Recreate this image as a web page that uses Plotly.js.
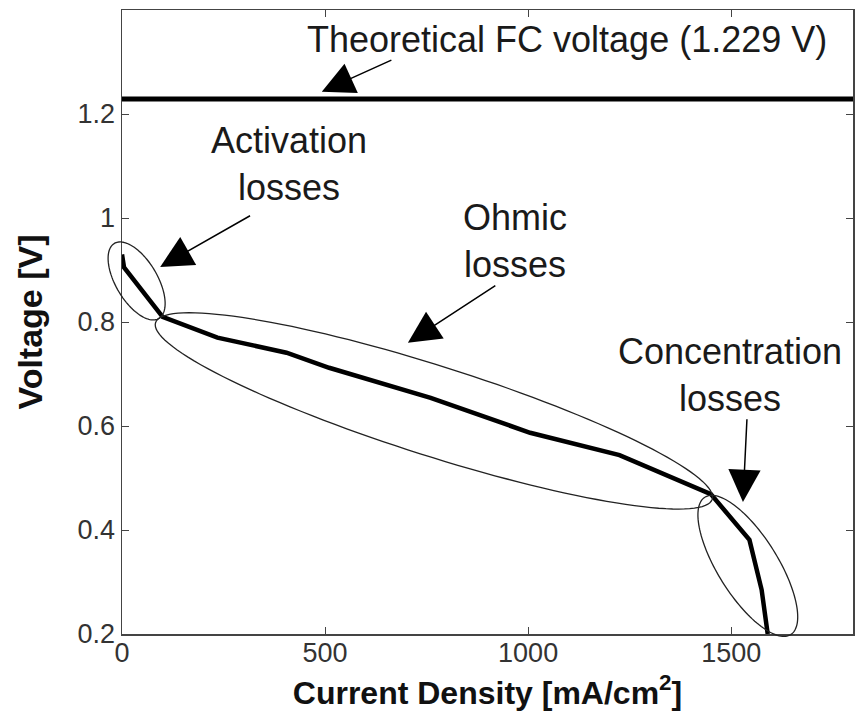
<!DOCTYPE html>
<html>
<head>
<meta charset="utf-8">
<script src="https://cdn.plot.ly/plotly-3.0.1.min.js"></script>
<style>html,body{margin:0;padding:0;background:#fff;}#chart{width:855px;height:721px;}</style>
</head>
<body>
<div id="chart"></div>
<script>
// ---- data ----
const currentDensity = [0, 5, 100, 235, 405, 510, 760, 1005, 1225, 1450, 1545, 1575, 1590];
const voltage = [0.93, 0.905, 0.81, 0.77, 0.741, 0.712, 0.654, 0.587, 0.544, 0.469, 0.381, 0.285, 0.2];
const theoreticalVoltage = 1.229;
const xTickVals = [0, 500, 1000, 1500];
const yTickVals = [0.2, 0.4, 0.6, 0.8, 1, 1.2];
const yTickText = ['0.2', '0.4', '0.6', '0.8', '1', '1.2'];
const labelTexts = ['Theoretical FC voltage (1.229 V)', 'Activation<br>losses', 'Ohmic<br>losses', 'Concentration<br>losses'];
const labelX = [1096, 411, 968, 1497];
const labelY = [1.343, 1.103, 0.956, 0.699];
const arrowTailX = [667, 319, 923, 1539];
const arrowTailY = [1.305, 1.006, 0.872, 0.616];
const arrowTipX = [492, 94, 704, 1529];
const arrowTipY = [1.243, 0.906, 0.76, 0.454];
// loss regions: centre (data), semi-axes (px), tilt (deg)
const regionCx = [36, 768, 1541];
const regionCy = [0.879, 0.629, 0.331];
const regionA = [43.6, 292, 81];
const regionB = [20.8, 45, 30];
const regionTilt = [59.4, 17.6, 58];

// ---- layout geometry ----
const W = 855, H = 721;
const M = {l: 122, r: 2, t: 10, b: 87};
const xRange = [0, 1800], yRange = [0.2, 1.4];
const plotW = W - M.l - M.r, plotH = H - M.t - M.b;
const kx = plotW / (xRange[1] - xRange[0]);
const ky = plotH / (yRange[1] - yRange[0]);

// ellipse outline in paper coordinates (so it is not clipped at the axes)
function ellipsePath(cx, cy, a, b, deg) {
  const th = deg * Math.PI / 180;
  let p = '';
  const n = 140;
  for (let i = 0; i <= n; i++) {
    const t = 2 * Math.PI * i / n;
    const dx = a * Math.cos(t) * Math.cos(th) - b * Math.sin(t) * Math.sin(th);
    const dy = a * Math.cos(t) * Math.sin(th) + b * Math.sin(t) * Math.cos(th);
    const x = cx + dx / kx;
    const y = cy - dy / ky;
    const xp = (x - xRange[0]) / (xRange[1] - xRange[0]);
    const yp = (y - yRange[0]) / (yRange[1] - yRange[0]);
    p += (i === 0 ? 'M' : 'L') + xp.toFixed(5) + ',' + yp.toFixed(5) + ' ';
  }
  return p + 'Z';
}

const shapes = [{
  type: 'line', xref: 'paper', x0: 0, x1: 1, yref: 'y', y0: theoreticalVoltage, y1: theoreticalVoltage,
  line: {color: '#000', width: 5}
}];
for (let i = 0; i < regionCx.length; i++) {
  shapes.push({
    type: 'path', xref: 'paper', yref: 'paper',
    path: ellipsePath(regionCx[i], regionCy[i], regionA[i], regionB[i], regionTilt[i]),
    line: {color: '#222', width: 1.3}
  });
}

const font = 'Liberation Sans, Arial, Helvetica, sans-serif';
const annotations = [];
for (let i = 0; i < labelTexts.length; i++) {
  annotations.push({
    x: labelX[i], y: labelY[i], xref: 'x', yref: 'y', text: labelTexts[i], showarrow: false,
    xanchor: 'center', yanchor: 'middle', font: {family: font, size: 36, color: '#1a1a1a'}
  });
  annotations.push({
    x: arrowTipX[i], y: arrowTipY[i], xref: 'x', yref: 'y',
    ax: arrowTailX[i], ay: arrowTailY[i], axref: 'x', ayref: 'y',
    text: '', showarrow: true, arrowhead: 2, arrowsize: 4.3, arrowwidth: 1.5, arrowcolor: '#000',
    standoff: 0
  });
}

const trace = {
  x: currentDensity, y: voltage, type: 'scatter', mode: 'lines',
  line: {color: '#000', width: 4.5}, hoverinfo: 'skip', showlegend: false, cliponaxis: false
};

const axisCommon = {
  showgrid: false, zeroline: false, showline: true, mirror: 'ticks', linecolor: '#444', linewidth: 1.5,
  ticks: 'inside', ticklen: 7, tickwidth: 1, tickcolor: '#444',
  tickfont: {family: font, size: 27, color: '#333'}
};

const layout = {
  width: W, height: H, margin: M, paper_bgcolor: '#fff', plot_bgcolor: '#fff', showlegend: false,
  xaxis: Object.assign({}, axisCommon, {
    range: xRange, tickvals: xTickVals, ticktext: xTickVals.map(String), ticklabelstandoff: -6,
    title: {text: 'Current Density [mA/cm<sup>2</sup>]', font: {family: font, size: 32, color: '#111', weight: 'bold'}, standoff: 14}
  }),
  yaxis: Object.assign({}, axisCommon, {
    range: yRange, tickvals: yTickVals, ticktext: yTickText,
    title: {text: 'Voltage [V]', font: {family: font, size: 34, color: '#111', weight: 'bold'}, standoff: 24}
  }),
  shapes: shapes, annotations: annotations
};

Plotly.newPlot('chart', [trace], layout, {staticPlot: true, displayModeBar: false});
</script>
</body>
</html>
